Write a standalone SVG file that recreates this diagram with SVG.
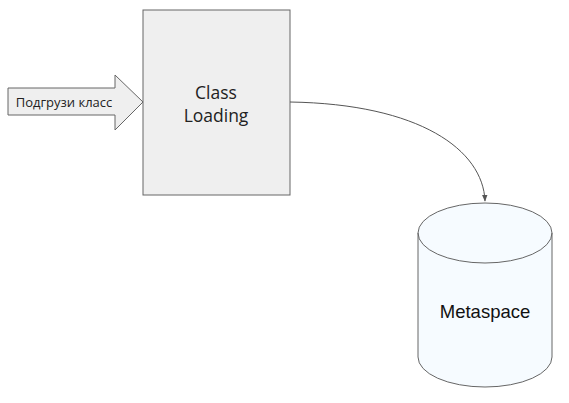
<svg xmlns="http://www.w3.org/2000/svg" width="569" height="403" viewBox="0 0 569 403">
<defs>
<style>
.shape{stroke:#666;stroke-width:1}
.os{font-family:"Open Sans","DejaVu Sans",sans-serif;fill:#222}
</style>
<marker id="ah" viewBox="0 0 10 10" refX="9" refY="5" markerWidth="7" markerHeight="7" orient="auto"><path d="M0,1 L10,5 L0,9 z" fill="#555"/></marker>
</defs>
<rect width="569" height="403" fill="#fff"/>
<g id="load-arrow">
<path class="shape" d="M8,88 H115 V75 L143,102 L115,130 V115 H8 Z" fill="#efefef"/>
<text class="os" x="64" y="107" font-size="13" text-anchor="middle">Подгрузи класс</text>
</g>
<g id="class-loading">
<rect class="shape" x="143" y="10" width="147" height="185" fill="#efefef"/>
<text class="os" x="216" y="99" font-size="17.5" text-anchor="middle">Class</text>
<text class="os" x="216" y="122" font-size="17.5" text-anchor="middle">Loading</text>
</g>
<g id="connectors">
<path d="M290,102 C420,104 483,150 485,201" fill="none" stroke="#555" stroke-width="1" marker-end="url(#ah)"/>
</g>
<g id="metaspace">
<path class="shape" d="M418,233 A67,30 0 0 1 552,233 V357 A67,30 0 0 1 418,357 Z" fill="#f6fbff"/>
<path class="shape" d="M418,233 A67,30 0 0 0 552,233" fill="none"/>
<text x="485" y="318" font-family="Liberation Sans, Arial, sans-serif" font-size="18.5" text-anchor="middle" fill="#111">Metaspace</text>
</g>
</svg>
